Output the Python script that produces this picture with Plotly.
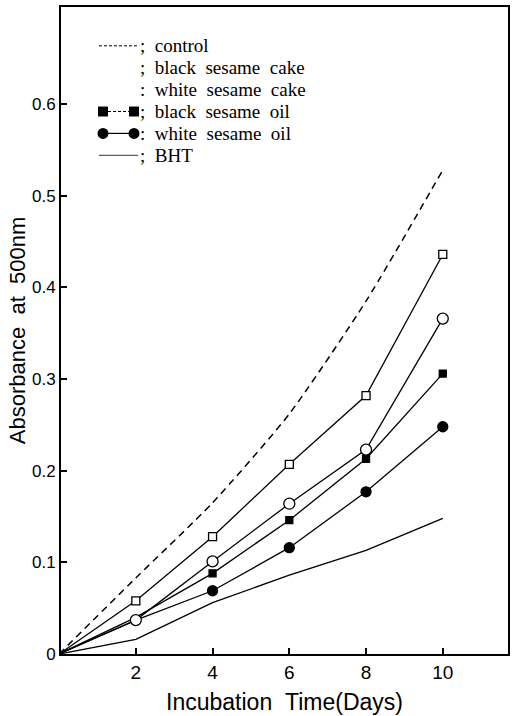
import plotly.graph_objects as go

# ---- data ----
days = [0, 2, 4, 6, 8, 10]
control = [0, 0.083, 0.165, 0.262, 0.385, 0.528]
black_cake = [0, 0.058, 0.128, 0.207, 0.282, 0.436]
white_cake = [0, 0.037, 0.101, 0.164, 0.223, 0.366]
black_oil = [0, 0.040, 0.088, 0.146, 0.213, 0.306]
white_oil = [0, 0.037, 0.069, 0.116, 0.177, 0.248]
bht = [0, 0.016, 0.056, 0.086, 0.113, 0.148]

y_tickvals = [0, 0.1, 0.2, 0.3, 0.4, 0.5, 0.6]
y_ticktext = ["0", "0.1", "0.2", "0.3", "0.4", "0.5", "0.6"]
x_tickvals = [2, 4, 6, 8, 10]
x_ticktext = ["2", "4", "6", "8", "10"]

S = "\u00a0\u00a0"
legend_labels = [
    ";" + S + "control",
    ";" + S + "black" + S + "sesame" + S + "cake",
    ":" + S + "white" + S + "sesame" + S + "cake",
    ";" + S + "black" + S + "sesame" + S + "oil",
    ":" + S + "white" + S + "sesame" + S + "oil",
    ";" + S + "BHT",
]

# ---- layout geometry ----
W, H = 518, 716
ML, MR, MT, MB = 61, 10, 5, 61
PW, PH = W - ML - MR, H - MT - MB


def px(x):
    return (x - ML) / PW


def py(y):
    return (H - MB - y) / PH


fig = go.Figure()

# control: dashed smooth curve
fig.add_trace(go.Scatter(x=days, y=control, mode="lines",
                         line=dict(color="black", width=1.5, dash="7px,5px", shape="spline", smoothing=0.6),
                         showlegend=False, hoverinfo="skip"))
# BHT: thin line
fig.add_trace(go.Scatter(x=days, y=bht, mode="lines",
                         line=dict(color="black", width=1.4),
                         showlegend=False))


def add_series(vals, symbol, size, fill, mstart):
    fig.add_trace(go.Scatter(x=days, y=vals, mode="lines",
                             line=dict(color="black", width=1.3),
                             showlegend=False))
    fig.add_trace(go.Scatter(x=days[mstart:], y=vals[mstart:], mode="markers",
                             marker=dict(symbol=symbol, size=size, color=fill,
                                         line=dict(color="black", width=1.3)),
                             showlegend=False))


add_series(white_oil, "circle", 10, "black", 2)
add_series(black_oil, "square", 7, "black", 2)
add_series(white_cake, "circle", 11, "white", 1)
add_series(black_cake, "square", 8, "white", 1)

# ---- legend (drawn as in the paper figure) ----
rows = [44, 66, 88, 110, 132, 154]
x0, x1 = 99, 138
shapes = []
ann = []
# control dashed
shapes.append(dict(type="line", xref="paper", yref="paper", x0=px(x0), x1=px(x1), y0=py(rows[0]), y1=py(rows[0]),
                   line=dict(color="black", width=1, dash="3px,2px")))
# black oil: square - dashed - square
shapes.append(dict(type="line", xref="paper", yref="paper", x0=px(x0 + 4), x1=px(x1 - 4), y0=py(rows[3]), y1=py(rows[3]),
                   line=dict(color="black", width=1, dash="3px,2px")))
for cx in (x0 + 4, x1 - 4):
    shapes.append(dict(type="rect", xref="paper", yref="paper", x0=px(cx - 5), x1=px(cx + 5),
                       y0=py(rows[3] + 5), y1=py(rows[3] - 5), fillcolor="black", line=dict(width=0)))
# white oil: circle - line - circle
shapes.append(dict(type="line", xref="paper", yref="paper", x0=px(x0 + 4), x1=px(x1 - 4), y0=py(rows[4]), y1=py(rows[4]),
                   line=dict(color="black", width=1.2)))
for cx in (x0 + 4, x1 - 4):
    shapes.append(dict(type="circle", xref="paper", yref="paper", x0=px(cx - 5.5), x1=px(cx + 5.5),
                       y0=py(rows[4] + 5.5), y1=py(rows[4] - 5.5), fillcolor="black", line=dict(width=0)))
# BHT thin line
shapes.append(dict(type="line", xref="paper", yref="paper", x0=px(x0), x1=px(x1), y0=py(rows[5]), y1=py(rows[5]),
                   line=dict(color="black", width=0.8)))

for r, lab in zip(rows, legend_labels):
    ann.append(dict(xref="paper", yref="paper", x=px(x1 + 1), y=py(r), text=lab, showarrow=False,
                    xanchor="left", yanchor="middle", borderpad=0,
                    font=dict(family="Liberation Serif", size=19, color="black")))

fig.update_layout(
    width=W, height=H,
    margin=dict(l=ML, r=MR, t=MT, b=MB),
    paper_bgcolor="white", plot_bgcolor="white",
    shapes=shapes, annotations=ann,
    font=dict(family="Liberation Sans", color="black"),
)
fig.update_xaxes(range=[0.05, 11.7], showgrid=False, zeroline=False,
                 showline=True, linecolor="black", linewidth=2, mirror=True,
                 ticks="inside", ticklen=6, tickwidth=1.5, tickcolor="black",
                 tickvals=x_tickvals, ticktext=x_ticktext, tickfont=dict(size=19),
                 title=dict(text="Incubation\u00a0\u00a0Time(Days)", font=dict(size=23), standoff=12))
fig.update_yaxes(range=[0, 0.706], showgrid=False, zeroline=False,
                 showline=True, linecolor="black", linewidth=2, mirror=True,
                 ticks="inside", ticklen=6, tickwidth=1.5, tickcolor="black",
                 tickvals=y_tickvals, ticktext=y_ticktext, tickfont=dict(size=17),
                 title=dict(text="Absorbance\u00a0\u00a0at\u00a0\u00a0500nm", font=dict(size=22), standoff=0))

fig.write_html("out.html")
